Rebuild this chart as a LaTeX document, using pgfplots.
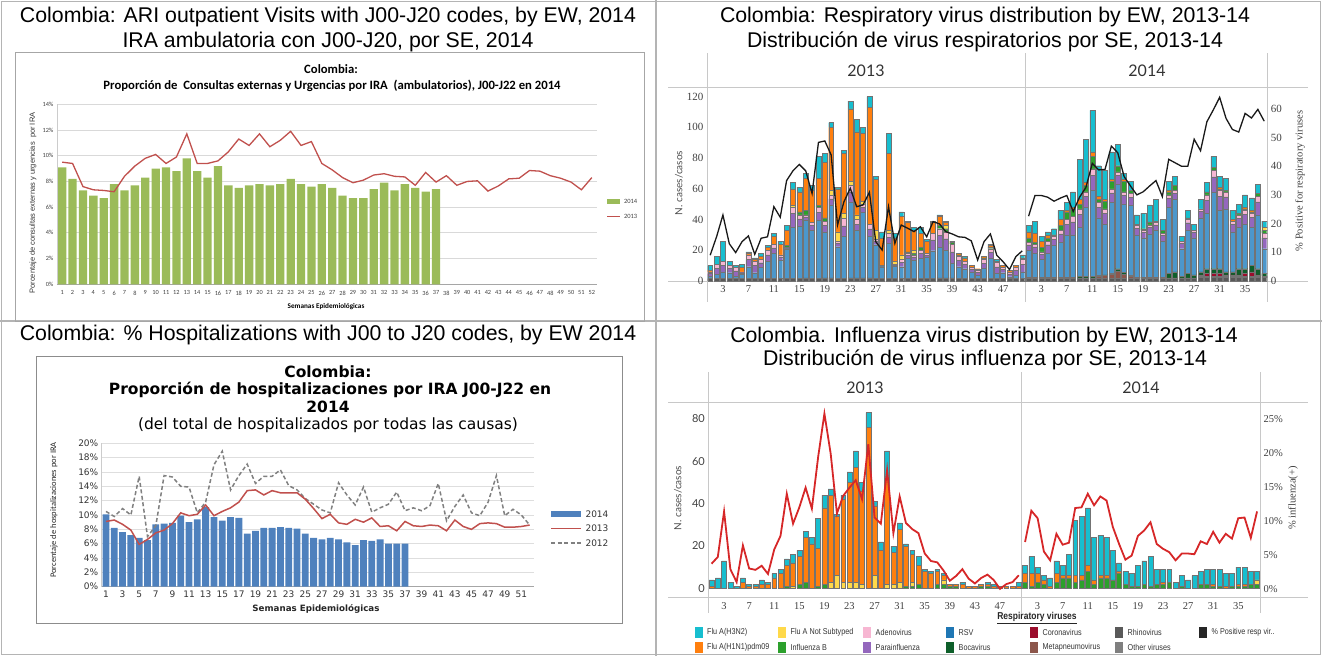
\documentclass[border=0pt]{standalone}
\usepackage{fontspec}
\setmainfont{Liberation Sans}
\newfontfamily\carlito{Carlito}
\newfontfamily\dejavu{DejaVu Sans}
\newfontfamily\lserif{Liberation Serif}
\newfontfamily\lato{Lato}
\newfontfamily\narrow[FakeStretch=0.85]{Liberation Sans}
\usepackage{pgfplots}
\usepackage{pgfplotstable}
\pgfplotsset{compat=1.18}
\newcommand\fs[1]{\fontsize{#1}{#1}\selectfont}
\definecolor{c1green}{HTML}{9BBB59}
\definecolor{c1red}{HTML}{C0504D}
\definecolor{c2blue}{HTML}{4F81BD}
\definecolor{vcyan}{HTML}{17BECF}
\definecolor{vorange}{HTML}{FF7F0E}
\definecolor{vyellow}{HTML}{FFD94A}
\definecolor{vpink}{HTML}{F7B6D2}
\definecolor{vrsv}{HTML}{4C97CB}
\definecolor{vrsvleg}{HTML}{1F77B4}
\definecolor{vpurple}{HTML}{9467BD}
\definecolor{vgreen}{HTML}{2CA02C}
\definecolor{vdkgreen}{HTML}{0E5F2A}
\definecolor{vcorona}{HTML}{9B0D2C}
\definecolor{vmeta}{HTML}{8C564B}
\definecolor{vrhino}{HTML}{595959}
\definecolor{vother}{HTML}{7F7F7F}
\definecolor{vred}{HTML}{D62728}
\definecolor{linegray}{HTML}{C8C8C8}
\definecolor{framec}{HTML}{B4B4B4}

\pgfplotstableread{
x oth met cor boc rsv par ade flb fns h1 h3
1 1.5 0 0 0 1.5 1.8 1.2 0 0 1 3
2 1.5 0 0 0 3 3.9 2.6 0 0 0 5
3 1.5 0 0 0 4.5 4.2 2.8 0 0 0 13
4 1.5 0 0 0 3.9 2.8 1.8 0 0 0 3
5 1.5 0 0 0 1.5 3.6 2.4 0 0 0 1
6 1.5 0 0 0 3 0.9 0.6 0 0 3 2
7 1.5 0 0 0 7.8 4.6 3.1 0 0 1 1
8 1.5 0 0 0 3.9 4.6 3 0 0 1 1
9 1.5 0 0 0 7.2 3.2 2.1 0 0 2 2
10 1.5 0 0 0 11.1 4.4 3 0 0 2 1
11 1.5 0 0 0 16.5 3.6 2.4 0 0 5 2
12 1.5 0 0 0 12.2 2 1.3 0 0 7 2
13 1.5 0 0 0 19.5 0.6 0.4 1 0 10 3
14 1.5 0 0 0 33.5 9 4 0 1 11 4
15 1.5 0 0 0 33.9 5 2.6 2 0 13 3
16 2 0 0 0 37.7 2 1.3 3 0 21 3
17 1.5 0 0 0 31.5 3 2 0 0 21 3
18 1.5 0 0 0 38.2 5 3.3 1 0 18 14
19 2 0 0 0 30 4 3 2 0 36 6
20 2 0 0 0 47.5 4 2.5 0 3 41 3
21 1.5 0 0 0 20.8 2.2 1.5 0 6 28 1
22 1.5 0 0 0 27.4 7 5 0 3 39 2
23 2 0 0 0 49 7 4 0 3 47 5
24 2 0 0 0 31 4 3 0 3 54 8
25 2 0 0 0 42.7 3 2.3 0 2 44 4
26 2 0 0 0 26.9 5 3 0 0 76 7
27 1.5 0 0 0 22.1 2 1.4 0 6 33 2
28 1.5 0 0 0 7.8 0.4 0.3 0 0 18 4
29 1.5 0 0 0 23 4 2.5 0 2 50 13
30 1.5 0 0 0 8.3 0.7 0.5 0 2 15 3
31 1.5 0 0 0 7.8 2.8 1.9 0 3 25 3
32 1.5 0 0 0 13.3 2 1.2 1 0 19 1
33 1.5 0 0 0 12.2 2 1.3 1 2 13 2
34 1.5 0 0 0 13.3 3.2 2 2 0 9 4
35 1.5 0 0 0 13.7 1.7 1.1 0 0 8 1
36 1.5 0 0 0 18.2 7 4.3 0 0 7 1
37 2 0 0 0 20 7.5 4.5 2 0 6 1
38 2 0 0 0 18 7.5 4.5 2 2 2 1
39 2 0 0 0 9.5 7.5 5 1 0 1 0
40 1.5 0 0 0 7.8 4 2.7 1 0 1 0
41 1.5 0 0 0 6.5 3 2 0 0 2 1
42 1.5 0 0 0 4.5 1.8 1.2 0 0 1 0
43 1.5 0 0 0 2.4 1.9 1.2 0 0 1 0
44 1.5 0 0 0 6.7 3.5 2.3 1 0 1 0
45 1.5 0 0 0 13.3 3.7 2.5 1 0 1 1
46 1.5 0 0 0 3.5 4.2 2.8 0 0 1 1
47 1.5 0 0 0 3.9 2.2 1.4 0 0 1 0
48 1.5 0 0 0 1.3 1.9 1.3 0 0 1 0
49 1.5 0 0 0 2.4 3.1 2 0 0 1 0
50 1.5 0 0 0 4.5 4.8 3.2 0 0 1 2
51 1.5 0.5 0 0.5 17.5 3.5 1.5 3 0 4 4
52 1.5 0.5 0 0.5 15.5 4.2 1.8 1 0 6 8
53 1.5 0.5 0 0.5 11.5 3.5 1.5 3 0 4 3
54 1.5 0.5 0 0.5 15.5 5.6 2.4 2 0 2 2
55 1.5 0.5 0 0.5 20.5 4.2 1.8 0 0 1 4
56 1.5 0.5 0 0.5 22.5 5.6 2.4 3 0 4 6
57 1.5 0.5 0 0.5 27.5 7 3 5 0 1 5
58 1.5 0.5 0 0.5 27.5 8.4 3.6 5 0 1 10
59 1.5 0.5 0 1 32 8.4 3.6 3 0 3 26
60 1.5 0.5 0 1 45 7 3 4 0 2 28
61 1.5 0.5 0 1 56 9.8 4.2 8 0 3 27
62 1.5 1.5 0 0.5 37.5 7 3 2 0 2 20
63 1.5 2 0 0.5 33 7 3 5 0 1 19
64 1.5 3 0 0.5 46 6.3 2.7 5 0 1 18
65 1.5 5 0 1.5 55 5.6 2.4 4 0 0 14
66 1.5 3 0 1 44.5 5.6 2.4 7 0 1 4
67 1.5 1.5 0 0.5 45.5 5.6 2.4 2 0 0 6
68 1.5 0.5 0 0.5 27.5 4.2 1.8 1 0 0 6
69 1.5 0.5 0 0.5 25.5 3.5 1.5 1 0 0 10
70 1.5 0.5 0 0.5 28 4.2 1.8 2 0 0 11
71 1.5 0.5 0 0.5 30.5 3.5 1.5 1 0 0 14
72 1.5 0.5 0 0.5 23.5 3.5 1.5 2 0 0 7
73 1.5 0.5 0 3 43 5.6 2.4 2 0 1 6
74 1.5 0.5 0 4 47 4.2 1.8 3 0 0 6
75 1.5 0.5 0 1 18 3.5 1.5 0 0 0 3
76 1.5 0.5 0 3 28 4.9 2.1 1 0 0 5
77 1.5 0.5 0 2 24 3.5 1.5 0 0 0 4
78 2.5 0.5 1 2 35 4.2 1.8 0 0 0 6
79 2.5 0.5 2 3 36 8.4 3.6 2 0 0 6
80 2.5 0.5 2 3 50 9.8 4.2 2 0 0 7
81 2.5 0.5 2 3 38 9.1 3.9 1 0 1 7
82 2.5 0.5 1 2 41 7.7 3.3 1 0 0 8
83 2.5 0.5 1 2 26 4.9 2.1 0 0 1 6
84 2.5 0.5 1 4 27 5.6 2.4 1 0 0 6
85 2.5 0.5 2 3 29 6.3 2.7 1 0 1 8
86 2.5 0.5 3 4 25 6.3 2.7 1 0 1 8
87 2.5 0.5 1 4 35 8.4 3.6 2 0 0 6
88 2.5 0.5 0 2 16 7 3 2 2 0 4
}\tabthree

\begin{document}
\begin{tikzpicture}
\path[use as bounding box] (0pt,0pt) rectangle (1322pt,-656pt);
% table frame
\draw[framec, line width=1.5pt] (1.5pt,-1.5pt) rectangle (1320.5pt,-654.5pt);
\draw[framec, line width=1.5pt] (656pt,0pt) -- (656pt,-656pt);
\draw[framec, line width=1.5pt] (0pt,-321pt) -- (1322pt,-321pt);

%================ PANEL 1
\node[font=\fs{21.3}] at (328pt,-17pt) {Colombia: ARI outpatient Visits with J00-J20 codes, by EW, 2014};
\node[font=\fs{21.3}] at (328pt,-42pt) {IRA ambulatoria con J00-J20, por SE, 2014};
\draw[black!35, line width=0.8pt] (15pt,-52.5pt) rectangle (644pt,-321pt);
\node[font=\carlito\bfseries\fs{12.7}] at (331pt,-69pt) {Colombia:};
\node[font=\carlito\bfseries\fs{12.7}] at (332pt,-86pt) {Proporción de\ \ Consultas externas y Urgencias por IRA\ \ (ambulatorios), J00-J22 en 2014};
\node[rotate=90, font=\fs{7.5}, text=black!80] at (33pt,-203pt) {Porcentaje de consultas externas y urgencias\ \ por IRA};
\node[font=\carlito\bfseries\fs{7.2}] at (326pt,-307pt) {Semanas Epidemiológicas};
\begin{axis}[at={(57pt,-284.3pt)}, anchor=south west, scale only axis,
  width=540pt, height=180pt, xmin=0.5, xmax=52.5, ymin=0, ymax=14,
  ytick={0,2,...,14}, yticklabel={\pgfmathprintnumber{\tick}\%},
  xtick={1,...,52}, major tick length=0pt,
  /pgf/number format/assume math mode=true,
  ymajorgrids, grid style={draw=black!15, line width=0.9pt},
  axis x line*=bottom, axis y line*=left,
  x axis line style={draw=black!35, line width=0.8pt},
  y axis line style={draw=black!20, line width=0.8pt},
  ticklabel style={font=\carlito\fs{6.3}, text=black!75},
  xticklabel style={yshift=-3pt}]
\addplot[ybar, bar width=0.8, fill=c1green, draw=none] coordinates {
(1,9.1)(2,8.2)(3,7.3)(4,6.9)(5,6.7)(6,7.8)(7,7.3)(8,7.7)(9,8.3)(10,9.0)(11,9.1)(12,8.8)(13,9.8)(14,8.8)(15,8.3)(16,9.2)(17,7.7)(18,7.5)(19,7.7)(20,7.8)(21,7.7)(22,7.8)(23,8.2)(24,7.8)(25,7.6)(26,7.8)(27,7.5)(28,6.9)(29,6.7)(30,6.7)(31,7.4)(32,7.9)(33,7.3)(34,7.8)(35,7.5)(36,7.2)(37,7.4)};
\addplot[c1red, line width=1.3pt, mark=none] coordinates {
(1,9.5)(2,9.4)(3,7.6)(4,7.35)(5,7.3)(6,7.2)(7,8.4)(8,9.2)(9,9.8)(10,10.1)(11,9.4)(12,9.9)(13,11.7)(14,9.4)(15,9.4)(16,9.6)(17,10.3)(18,11.3)(19,10.8)(20,11.7)(21,10.7)(22,11.2)(23,11.9)(24,10.8)(25,11.1)(26,9.4)(27,8.9)(28,8.3)(29,7.9)(30,8.1)(31,8.5)(32,8.6)(33,8.4)(34,8.35)(35,7.7)(36,8.7)(37,7.95)(38,8.45)(39,7.7)(40,8.0)(41,8.05)(42,7.25)(43,7.65)(44,8.2)(45,8.25)(46,8.85)(47,8.8)(48,8.45)(49,8.25)(50,7.95)(51,7.35)(52,8.3)};
\end{axis}
\fill[c1green] (607pt,-199pt) rectangle (620pt,-204pt);
\node[anchor=west, font=\carlito\fs{6.5}, text=black!75] at (620.5pt,-201.5pt) {2014};
\draw[c1red, line width=1.2pt] (607pt,-216.7pt) -- (620pt,-216.7pt);
\node[anchor=west, font=\carlito\fs{6.5}, text=black!75] at (620.5pt,-216.7pt) {2013};

%================ PANEL 2
\node[font=\fs{21.3}] at (328pt,-335pt) {Colombia: \% Hospitalizations with J00 to J20 codes, by EW 2014};
\draw[black!45, line width=0.8pt] (36pt,-356pt) rectangle (622pt,-623pt);
\node[font=\dejavu\bfseries\fs{15.5}] at (328pt,-372pt) {Colombia:};
\node[font=\dejavu\bfseries\fs{15.5}] at (330pt,-389.5pt) {Proporción de hospitalizaciones por IRA J00-J22 en};
\node[font=\dejavu\bfseries\fs{15.5}] at (328pt,-407pt) {2014};
\node[font=\dejavu\fs{15.5}] at (328pt,-425pt) {(del total de hospitalizados por todas las causas)};
\node[rotate=90, font=\carlito\fs{8.5}, text=black!85] at (54pt,-510pt) {Porcentaje de hospitalizaciones por IRA};
\node[font=\dejavu\bfseries\fs{8.7}, text=black!85] at (316pt,-609pt) {Semanas Epidemiológicas};
\begin{axis}[at={(101.8pt,-586.7pt)}, anchor=south west, scale only axis,
  width=432pt, height=143.4pt, xmin=0.5, xmax=52.5, ymin=0, ymax=20,
  ytick={0,2,...,20}, yticklabel={\pgfmathprintnumber{\tick}\%},
  xtick={1,3,...,51}, major tick length=0pt,
  /pgf/number format/assume math mode=true,
  ymajorgrids, grid style={draw=black!13, line width=0.9pt},
  axis x line*=bottom, axis y line*=left,
  x axis line style={draw=black!35, line width=0.8pt},
  y axis line style={draw=black!20, line width=0.8pt},
  ticklabel style={font=\dejavu\fs{9}, text=black!80},
  xticklabel style={yshift=-1pt}]
\addplot[ybar, bar width=0.82, fill=c2blue, draw=none] coordinates {
(1,10.1)(2,8.2)(3,7.6)(4,7.2)(5,6.8)(6,6.5)(7,8.7)(8,8.8)(9,8.9)(10,9.9)(11,9.0)(12,9.4)(13,11.1)(14,9.7)(15,9.2)(16,9.7)(17,9.6)(18,7.4)(19,7.8)(20,8.2)(21,8.2)(22,8.3)(23,8.2)(24,8.1)(25,7.4)(26,6.8)(27,6.6)(28,6.8)(29,6.6)(30,6.2)(31,5.8)(32,6.5)(33,6.4)(34,6.6)(35,6.0)(36,6.0)(37,6.0)};
\addplot[black!50, dash pattern=on 4pt off 2.5pt, line width=1.5pt, mark=none] coordinates {
(1,10.5)(2,9.8)(3,10.9)(4,10.0)(5,15.4)(6,7.0)(7,8.5)(8,15.5)(9,15.3)(10,14.0)(11,13.9)(12,10.3)(13,11.8)(14,17.0)(15,18.9)(16,13.5)(17,15.5)(18,17.1)(19,14.4)(20,15.4)(21,15.4)(22,16.3)(23,14.1)(24,13.5)(25,12.3)(26,11.5)(27,10.7)(28,10.3)(29,14.5)(30,12.8)(31,11.4)(32,13.9)(33,10.4)(34,11.0)(35,11.5)(36,13.2)(37,10.6)(38,11.0)(39,10.6)(40,11.3)(41,14.4)(42,9.2)(43,11.2)(44,12.8)(45,10.3)(46,9.9)(47,11.8)(48,15.5)(49,9.9)(50,10.8)(51,10.0)(52,8.6)};
\addplot[c1red, line width=1.5pt, mark=none] coordinates {
(1,9.1)(2,9.3)(3,8.7)(4,7.9)(5,5.9)(6,6.6)(7,7.5)(8,7.9)(9,8.8)(10,10.3)(11,9.9)(12,10.1)(13,11.4)(14,9.9)(15,10.5)(16,11.0)(17,11.8)(18,13.4)(19,13.5)(20,12.8)(21,13.4)(22,13.1)(23,13.1)(24,13.1)(25,12.2)(26,10.9)(27,9.5)(28,10.1)(29,8.9)(30,8.7)(31,9.4)(32,9.0)(33,9.6)(34,8.4)(35,8.5)(36,7.8)(37,9.1)(38,8.5)(39,8.4)(40,8.6)(41,8.5)(42,7.8)(43,9.3)(44,8.4)(45,8.0)(46,8.8)(47,8.9)(48,8.8)(49,8.3)(50,8.3)(51,8.4)(52,8.6)};
\end{axis}
\fill[c2blue] (551pt,-511pt) rectangle (581pt,-517pt);
\node[anchor=west, font=\dejavu\fs{9}, text=black!80] at (582pt,-514pt) {2014};
\draw[c1red, line width=1.5pt] (551pt,-528.5pt) -- (581pt,-528.5pt);
\node[anchor=west, font=\dejavu\fs{9}, text=black!80] at (582pt,-528.5pt) {2013};
\draw[black!50, line width=1.5pt, dash pattern=on 4pt off 2.5pt] (551pt,-543pt) -- (581pt,-543pt);
\node[anchor=west, font=\dejavu\fs{9}, text=black!80] at (582pt,-543pt) {2012};

%================ PANEL 3
\node[font=\fs{21.3}] at (985pt,-17pt) {Colombia: Respiratory virus distribution by EW, 2013-14};
\node[font=\fs{21.3}] at (985pt,-42pt) {Distribución de virus respiratorios por SE, 2013-14};
\draw[linegray, line width=1pt] (668pt,-87pt) -- (1308pt,-87pt);
\draw[linegray, line width=1pt] (668pt,-281pt) -- (1308pt,-281pt);
\foreach \xx in {707,1025.5,1267.5} \draw[linegray, line width=1pt] (\xx pt,-53pt) -- (\xx pt,-302pt);
\node[font=\lato\fs{16}, text=black!80] at (866pt,-70.7pt) {2013};
\node[font=\lato\fs{16}, text=black!80] at (1147pt,-70.7pt) {2014};
\node[rotate=90, font=\lato\fs{10}, text=black!70] at (679pt,-183pt) {N. cases/casos};
\node[rotate=90, font=\lserif\fs{10.5}, text=black!75] at (1300pt,-181pt) {\% Positive for respiratory viruses};
\begin{axis}[at={(707pt,-281pt)}, anchor=south west, scale only axis,
  width=560.4pt, height=194pt, xmin=0.5, xmax=88.5, ymin=0, ymax=126.2,
  ybar stacked, bar width=0.78,
  axis line style={draw=none}, major tick length=0pt,
  ytick={0,20,...,120},
  xtick={3,7,11,15,19,23,27,31,35,39,43,47,53,57,61,65,69,73,77,81,85},
  xticklabels={3,7,11,15,19,23,27,31,35,39,43,47,3,7,11,15,19,23,27,31,35},
  /pgf/number format/assume math mode=true,
  yticklabel style={font=\lserif\fs{11}, text=black!75},
  xticklabel style={font=\lserif\fs{10.5}, text=black!75, yshift=-1pt},
  every axis plot/.append style={draw=black!55, line width=0.4pt}]
\addplot[fill=vrhino] table[x=x,y=oth] {\tabthree};
\addplot[fill=vmeta] table[x=x,y=met] {\tabthree};
\addplot[fill=vcorona] table[x=x,y=cor] {\tabthree};
\addplot[fill=vdkgreen] table[x=x,y=boc] {\tabthree};
\addplot[fill=vrsv] table[x=x,y=rsv] {\tabthree};
\addplot[fill=vpurple] table[x=x,y=par] {\tabthree};
\addplot[fill=vpink] table[x=x,y=ade] {\tabthree};
\addplot[fill=vgreen] table[x=x,y=flb] {\tabthree};
\addplot[fill=vyellow] table[x=x,y=fns] {\tabthree};
\addplot[fill=vorange] table[x=x,y=h1] {\tabthree};
\addplot[fill=vcyan] table[x=x,y=h3] {\tabthree};
\end{axis}
\begin{axis}[at={(707pt,-281pt)}, anchor=south west, scale only axis,
  width=560.4pt, height=194pt, xmin=0.5, xmax=88.5, ymin=0, ymax=67.6,
  axis x line=none, axis y line*=right, axis line style={draw=none},
  major tick length=0pt, ytick={0,10,...,60},
  /pgf/number format/assume math mode=true,
  yticklabel style={font=\lserif\fs{11}, text=black!75}]
\addplot[black!90, line width=1.3pt, mark=none] coordinates {
(1,9)(2,15.4)(3,23)(4,13)(5,9.9)(6,13.7)(7,15.7)(8,9.3)(9,14.9)(10,15.4)(11,25.9)(12,22.2)(13,35)(14,38.4)(15,40.6)(16,38.4)(17,30.5)(18,48.3)(19,48.8)(20,43.9)(21,19.5)(22,27.6)(23,32.3)(24,25.9)(25,26.5)(26,30.9)(27,13.7)(28,10.8)(29,25.9)(30,13.1)(31,19.5)(32,18.4)(33,17.2)(34,18.9)(35,15.4)(36,20.7)(37,19.9)(38,17.2)(39,16.4)(40,15.4)(41,15.2)(42,14)(43,7.3)(44,13.7)(45,16.4)(46,9)(47,6.7)(48,4)(49,8.5)(50,10.5)};
\addplot[black!90, line width=1.3pt, mark=none] coordinates {
(51,22.6)(52,29.8)(53,29.8)(54,29.2)(55,27.8)(56,28.9)(57,29.8)(58,24.2)(59,29.2)(60,32.6)(61,41)(62,38.7)(63,38.9)(64,47)(65,44.7)(66,36.4)(67,33.1)(68,30)(69,31.1)(70,33.1)(71,35)(72,29.4)(73,42.4)(74,41.2)(75,40)(76,40)(77,49.4)(78,45.4)(79,55.5)(80,59.6)(81,64)(82,56.7)(83,52.8)(84,51.9)(85,58.4)(86,56.8)(87,59.8)(88,55.7)};
\end{axis}

%================ PANEL 4
\node[font=\fs{21.3}] at (984pt,-336.7pt) {Colombia. Influenza virus distribution by EW, 2013-14};
\node[font=\fs{21.3}] at (985pt,-360pt) {Distribución de virus influenza por SE, 2013-14};
\draw[linegray, line width=1pt] (668pt,-402.7pt) -- (1308pt,-402.7pt);
\draw[linegray, line width=1pt] (668pt,-597.7pt) -- (1308pt,-597.7pt);
\foreach \xx in {708.4,1021.9,1260.2} \draw[linegray, line width=1pt] (\xx pt,-372pt) -- (\xx pt,-613pt);
\node[font=\lato\fs{16}, text=black!80] at (865pt,-388pt) {2013};
\node[font=\lato\fs{16}, text=black!80] at (1141pt,-388pt) {2014};
\node[rotate=90, font=\lato\fs{10}, text=black!70] at (678pt,-498pt) {N. cases/casos};
\node[rotate=90, font=\lserif\fs{10.5}, text=black!75] at (1293pt,-498pt) {\% influenza(+)};
\begin{axis}[at={(708.4pt,-597.7pt)}, anchor=south west, scale only axis,
  width=551.8pt, height=195pt, xmin=0.5, xmax=88.5, ymin=-4.4, ymax=87.7,
  ybar stacked, bar width=0.78,
  axis line style={draw=none}, major tick length=0pt,
  ytick={0,20,...,80},
  xtick={3,7,11,15,19,23,27,31,35,39,43,47,53,57,61,65,69,73,77,81,85},
  xticklabels={3,7,11,15,19,23,27,31,35,39,43,47,3,7,11,15,19,23,27,31,35},
  /pgf/number format/assume math mode=true,
  yticklabel style={font=\lato\fs{11}, text=black!75},
  xticklabel style={font=\lserif\fs{10.5}, text=black!75, yshift=-1pt},
  every axis plot/.append style={draw=black!55, line width=0.5pt}]
\addplot[fill=vgreen] table[x=x,y=flb] {\tabthree};
\addplot[fill=vyellow] table[x=x,y=fns] {\tabthree};
\addplot[fill=vorange] table[x=x,y=h1] {\tabthree};
\addplot[fill=vcyan] table[x=x,y=h3] {\tabthree};
\end{axis}
\begin{axis}[at={(708.4pt,-597.7pt)}, anchor=south west, scale only axis,
  width=551.8pt, height=195pt, xmin=0.5, xmax=88.5, ymin=-1.3, ymax=27.4,
  axis x line=none, axis y line*=right, axis line style={draw=none},
  major tick length=0pt, ytick={0,5,...,25}, yticklabel={\pgfmathprintnumber{\tick}\%},
  /pgf/number format/assume math mode=true,
  yticklabel style={font=\lserif\fs{10.5}, text=black!75}]
\addplot[vred, line width=1.8pt, mark=none] coordinates {
(1,3.7)(2,4.7)(3,11.4)(4,2.9)(5,1.0)(6,6.4)(7,3.0)(8,2.8)(9,3.4)(10,2.2)(11,5.8)(12,7.8)(13,14.0)(14,9.6)(15,12.0)(16,14.9)(17,11.8)(18,19.4)(19,25.8)(20,19.9)(21,11.1)(22,13.7)(23,14.9)(24,16.0)(25,13.2)(26,21.3)(27,10.5)(28,9.6)(29,17.5)(30,8.2)(31,13.6)(32,9.7)(33,8.8)(34,8.2)(35,5.2)(36,4.1)(37,3.9)(38,2.7)(39,1.2)(40,1.9)(41,2.9)(42,1.5)(43,0.8)(44,1.6)(45,2.1)(46,1.3)(47,0)(48,0.7)(49,1.0)(50,2.0)};
\addplot[vred, line width=1.8pt, mark=none] coordinates {
(51,6.9)(52,11.5)(53,10.4)(54,5.5)(55,4.2)(56,8.1)(57,6.5)(58,6.8)(59,11.9)(60,12.0)(61,14.0)(62,12.3)(63,13.6)(64,13.0)(65,9.1)(66,6.6)(67,4.3)(68,4.9)(69,7.8)(70,8.6)(71,9.8)(72,6.6)(73,5.9)(74,5.4)(75,4.2)(76,5.2)(77,5.2)(78,5.1)(79,7.0)(80,6.6)(81,8.4)(82,6.8)(83,8.1)(84,7.4)(85,10.4)(86,10.5)(87,7.5)(88,11.4)};
\end{axis}
\node[font=\narrow\bfseries\fs{10}, text=black!85] at (1037pt,-618.3pt) {\underline{Respiratory viruses}};
% legend
\foreach \lx/\ly/\lc/\lt in {
 694.5/632.3/vcyan/{Flu A(H3N2)},
 778/632.3/vyellow/{Flu A Not Subtyped},
 863/632.3/vpink/{Adenovirus},
 946/632.3/vrsvleg/{RSV},
 1030/632.3/vcorona/{Coronavirus},
 1115/632.3/vrhino/{Rhinovirus},
 1199/632.3/black!85/{\% Positive resp vir..},
 694.5/647.3/vorange/{Flu A(H1N1)pdm09},
 778/647.3/vgreen/{Influenza B},
 863/647.3/vpurple/{Parainfluenza},
 946/647.3/vdkgreen/{Bocavirus},
 1030/647.3/vmeta/{Metapneumovirus},
 1115/647.3/vother/{Other viruses}}{
 \fill[\lc] (\lx pt,-\ly pt+5.5pt) rectangle (\lx pt+8pt,-\ly pt-5.5pt);
 \node[anchor=west, font=\narrow\fs{8.5}, text=black!80, inner sep=0pt] at (\lx pt+12.5pt,-\ly pt) {\lt};
}
\end{tikzpicture}
\end{document}
